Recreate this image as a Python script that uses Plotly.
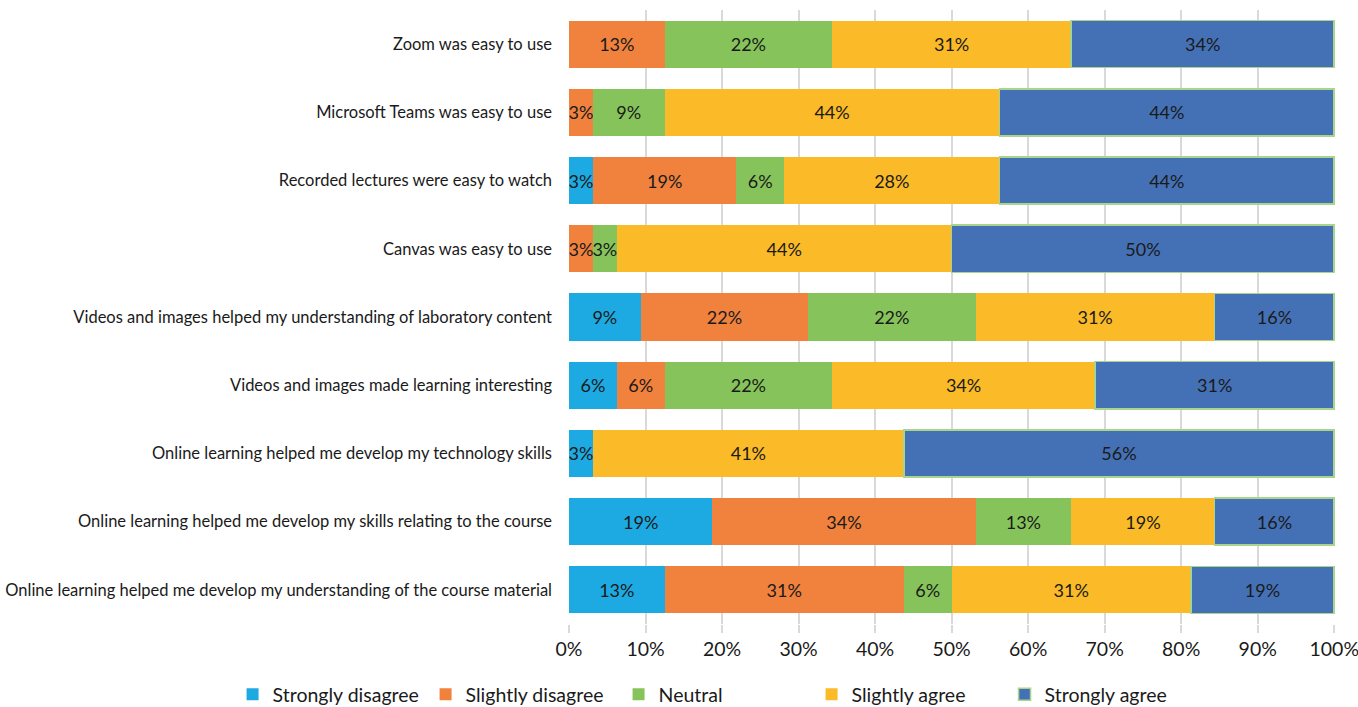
import plotly.graph_objects as go

categories = [
    "Zoom was easy to use",
    "Microsoft Teams was easy to use",
    "Recorded lectures were easy to watch",
    "Canvas was easy to use",
    "Videos and images helped my understanding of laboratory content",
    "Videos and images made learning interesting",
    "Online learning helped me develop my technology skills",
    "Online learning helped me develop my skills relating to the course",
    "Online learning helped me develop my understanding of the course material",
]

series_names = ["Strongly disagree", "Slightly disagree", "Neutral", "Slightly agree", "Strongly agree"]

strongly_disagree = [0, 0, 3.125, 0, 9.375, 6.25, 3.125, 18.75, 12.5]
slightly_disagree = [12.5, 3.125, 18.75, 3.125, 21.875, 6.25, 0, 34.375, 31.25]
neutral = [21.875, 9.375, 6.25, 3.125, 21.875, 21.875, 0, 12.5, 6.25]
slightly_agree = [31.25, 43.75, 28.125, 43.75, 31.25, 34.375, 40.625, 18.75, 31.25]
strongly_agree = [34.375, 43.75, 43.75, 50.0, 15.625, 31.25, 56.25, 15.625, 18.75]

x_tick_vals = [0, 10, 20, 30, 40, 50, 60, 70, 80, 90, 100]
x_tick_text = ["0%", "10%", "20%", "30%", "40%", "50%", "60%", "70%", "80%", "90%", "100%"]

colors = ["#1DAAE2", "#F0823E", "#86C45B", "#FBBA27", "#4471B5"]
outlines = [None, None, None, None, "#A8D58B"]

all_series = [strongly_disagree, slightly_disagree, neutral, slightly_agree, strongly_agree]

FONT = "Lato"

fig = go.Figure()
for name, vals, col, oc in zip(series_names, all_series, colors, outlines):
    labels = ["" if v == 0 else f"{int(v + 0.5)}%" for v in vals]
    fig.add_trace(go.Bar(
        y=categories,
        x=vals,
        name=name,
        orientation="h",
        marker=dict(color=col, line=dict(color=oc if oc else col, width=1.5 if oc else 0)),
        text=labels,
        textposition="inside",
        insidetextanchor="middle",
        textangle=0,
        constraintext="none",
        textfont=dict(family=FONT, size=18, color="#1a1a1a"),
        width=0.69,
        hoverinfo="x+y+name",
    ))

fig.update_layout(
    barmode="stack",
    width=1358,
    height=707,
    margin=dict(l=569, r=23, t=10, b=83, autoexpand=False),
    plot_bgcolor="white",
    paper_bgcolor="white",
    font=dict(family=FONT, size=16, color="#1a1a1a"),
    legend=dict(
        orientation="h",
        xref="paper",
        yref="paper",
        x=-0.4392,
        xanchor="left",
        y=-0.0831,
        yanchor="top",
        font=dict(family=FONT, size=19.5, color="#1a1a1a"),
        itemwidth=30,
        entrywidth=148,
        entrywidthmode="pixels",
        traceorder="normal",
    ),
    showlegend=True,
)

fig.update_xaxes(
    range=[0, 100.1],
    tickvals=x_tick_vals,
    ticktext=x_tick_text,
    showgrid=True,
    gridcolor="#D9D9D9",
    gridwidth=1.5,
    zeroline=False,
    ticks="outside",
    ticklen=8,
    tickcolor="#D9D9D9",
    tickwidth=1.5,
    tickfont=dict(family=FONT, size=19.5, color="#1a1a1a"),
    ticklabeloverflow="allow",
    showline=False,
    automargin=False,
    fixedrange=True,
)

fig.update_yaxes(
    categoryorder="array",
    categoryarray=categories,
    autorange="reversed",
    showgrid=False,
    showline=False,
    ticks="",
    ticklabelstandoff=16,
    tickfont=dict(family=FONT, size=16.5, color="#1a1a1a"),
    automargin=False,
    fixedrange=True,
)

fig.write_html(
    "out.html",
    config={"displayModeBar": False},
    post_script="document.body.style.margin='0';document.body.style.padding='0';document.body.style.overflow='hidden';",
)
